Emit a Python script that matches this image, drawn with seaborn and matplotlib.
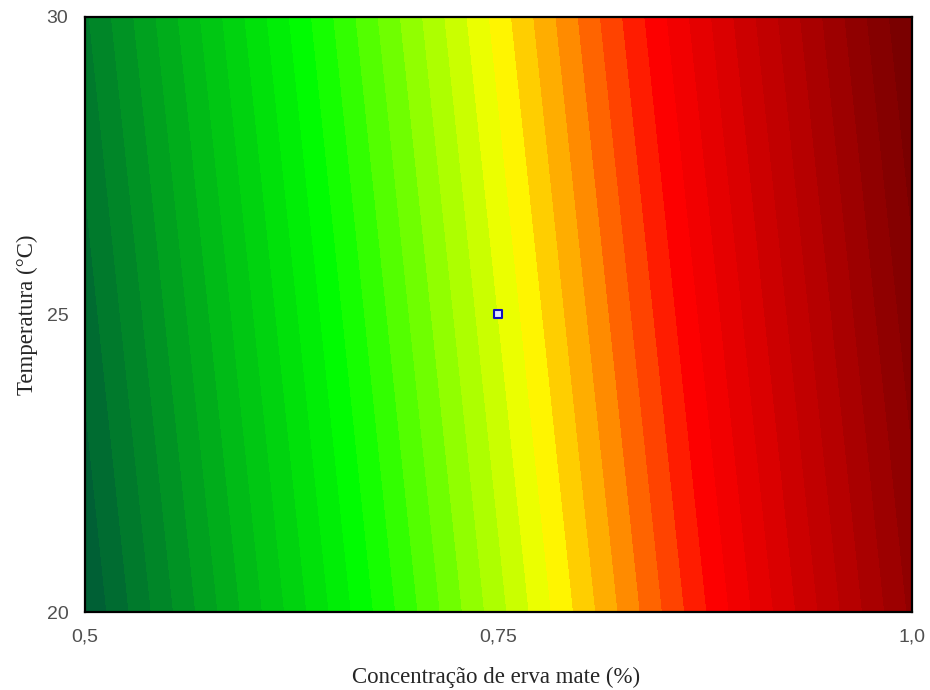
import numpy as np
import matplotlib
matplotlib.use("Agg")
import matplotlib.pyplot as plt
from matplotlib.colors import LinearSegmentedColormap
from matplotlib.ticker import MultipleLocator
import seaborn as sns
import pandas as pd

# Fitted linear response surface: Y = b0 + b1*C + b2*T
coef_intercept = 0.0
coef_conc = 40.0
coef_temp = 0.15

# Experimental domain and centre point
conc_range = [0.5, 1.0]
temp_range = [20.0, 30.0]
center_conc = [0.75]
center_temp = [25.0]

x_ticks = [0.5, 0.75, 1.0]
x_ticklabels = ["0,5", "0,75", "1,0"]
y_ticks = [20, 25, 30]
y_ticklabels = ["20", "25", "30"]

sns.set_theme(style="white")

conc = np.linspace(conc_range[0], conc_range[1], 300)
temp = np.linspace(temp_range[0], temp_range[1], 300)
C, T = np.meshgrid(conc, temp)
Y = coef_intercept + coef_conc * C + coef_temp * T

ymin, ymax = Y.min(), Y.max()
levels = np.linspace(ymin, ymax, 41)

cmap = LinearSegmentedColormap.from_list(
    "greenred",
    [(0.0, "#005a37"), (0.32, "#00ff00"), (0.53, "#ffff00"),
     (0.71, "#ff0000"), (1.0, "#740000")],
)

fig = plt.figure(figsize=(9.3, 6.9), dpi=100)
ax = fig.add_axes([0.0914, 0.113, 0.8892, 0.8625])

cs = ax.contourf(C, T, Y, levels=levels, cmap=cmap, vmin=ymin, vmax=ymax)
cs.set_edgecolor("face")
cs.set_linewidth(0.6)

pts = pd.DataFrame({"conc": center_conc, "temp": center_temp})
sns.scatterplot(data=pts, x="conc", y="temp", ax=ax, marker="s", s=26,
                facecolor="#dde6ff", edgecolor="#1010c0", linewidth=1.5, zorder=5)

ax.set_xlim(conc_range)
ax.set_ylim(temp_range)
ax.set_xticks(x_ticks)
ax.set_xticklabels(x_ticklabels)
ax.set_yticks(y_ticks)
ax.set_yticklabels(y_ticklabels)
ax.xaxis.set_minor_locator(MultipleLocator(0.5 / 12))
ax.yaxis.set_minor_locator(MultipleLocator(10 / 14))

ax.tick_params(which="major", direction="in", length=3, width=1.2, color="black",
               top=True, right=True, bottom=True, left=True,
               labelsize=14, labelcolor="#505050", pad=12)
ax.tick_params(which="minor", direction="in", length=3, width=1.2, color="black",
               top=True, right=True, bottom=False, left=False)
for lbl in ax.get_xticklabels() + ax.get_yticklabels():
    lbl.set_fontfamily("Liberation Sans")

for sp in ax.spines.values():
    sp.set_color("black")
    sp.set_linewidth(1.6)

ax.set_xlabel("Concentração de erva mate (%)", fontfamily="Liberation Serif",
              fontsize=16.5, color="#262626")
ax.set_ylabel("Temperatura (°C)", fontfamily="Liberation Serif",
              fontsize=16.5, color="#262626")
ax.xaxis.set_label_coords(0.497, -0.092)
ax.yaxis.set_label_coords(-0.057, 0.5)

fig.savefig("out.png", dpi=100)
